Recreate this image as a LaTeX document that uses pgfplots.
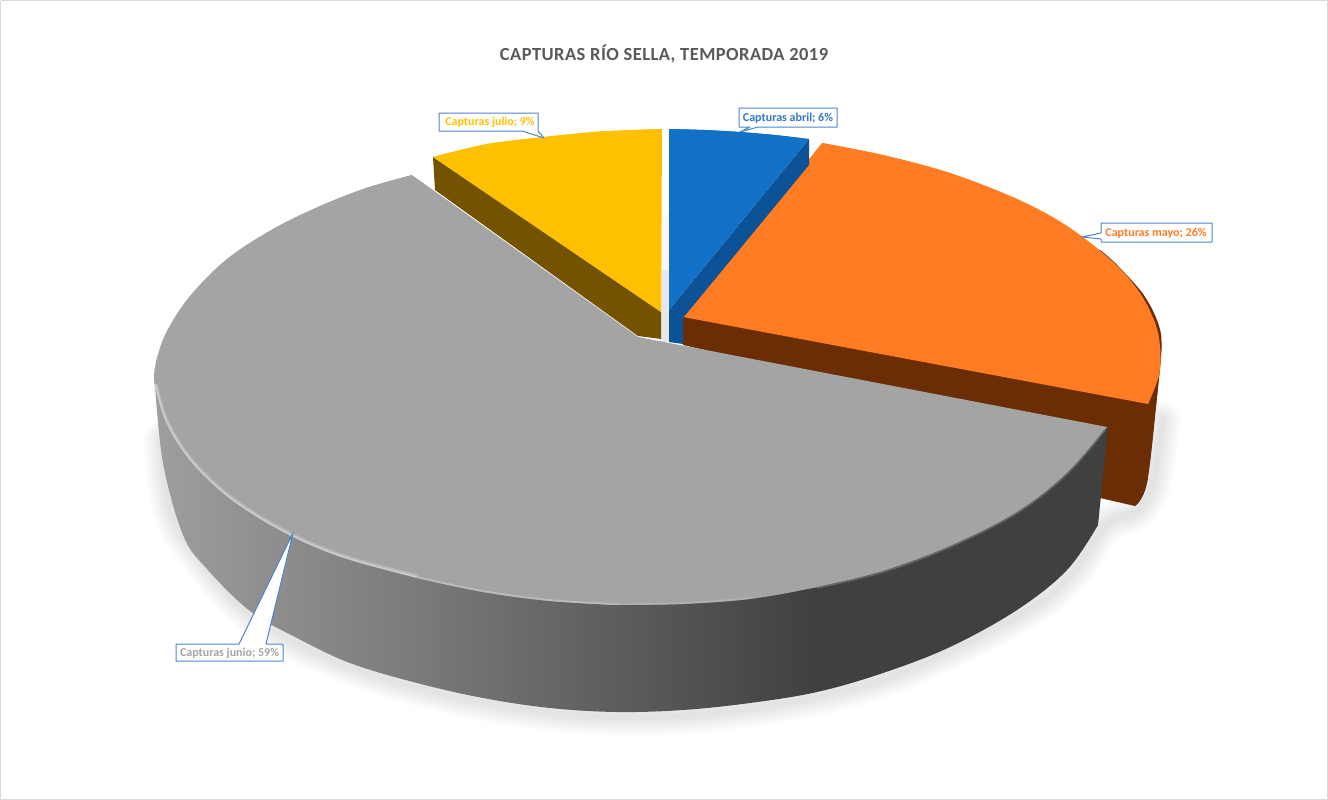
\documentclass[border=0pt]{standalone}
\usepackage{pgfplots}
\pgfplotsset{compat=1.18}
\usepackage{fontspec}
\setmainfont{Carlito}
\definecolor{framec}{HTML}{D9D9D9}
\definecolor{ctitle}{HTML}{595959}
\definecolor{cblue}{HTML}{1270C6}
\definecolor{cblued}{HTML}{0B5296}
\definecolor{corange}{HTML}{FF7C22}
\definecolor{coranged}{HTML}{6B2E04}
\definecolor{cyellow}{HTML}{FFC000}
\definecolor{cyellowd}{HTML}{735200}
\definecolor{cgray}{HTML}{A4A4A4}
\definecolor{cgrayd}{HTML}{404040}
\definecolor{ccall}{HTML}{4A86D0}
\definecolor{ctblue}{HTML}{2F78CC}
\pgfdeclarehorizontalshading{wallshade}{100bp}{
 color(0bp)=(black!38!white);
 color(25bp)=(black!38!white);
 color(37bp)=(black!50!white);
 color(48bp)=(black!62!white);
 color(60bp)=(black!75!white);
 color(65bp)=(black!75!white);
 color(100bp)=(black!75!white)}
\newcommand{\labelfont}{\fontsize{12}{13}\selectfont\bfseries}
\begin{document}
\begin{tikzpicture}
\begin{axis}[
 scale only axis, width=1328pt, height=800pt,
 xmin=0, xmax=1328, ymin=0, ymax=800, y dir=reverse,
 hide axis, clip=true,
 every axis plot/.append style={line join=round, tension=0.6}
]
% frame
\addplot[draw=framec, line width=1.2pt] coordinates {(0.6,0.6) (1327.4,0.6) (1327.4,799.4) (0.6,799.4) (0.6,0.6)};
% soft shadow under the pie
\pgfplotsinvokeforeach{38,34,30,26,22,18,14,10,6}{
\addplot[draw=black, opacity=0.013, line width=#1pt, smooth, line cap=round] coordinates {(162,440) (170,505) (190,545) (255,617) (355,668) (488,703) (620,717) (752,708) (885,678) (1019,615) (1070,575) (1105,525) (1135,512) (1152,485) (1162,420)};
}
% gap between julio and abril
\addplot[draw=none, fill=black!3] coordinates {(660,215) (671,215) (671,342) (660,342)};
\addplot[draw=none, fill=black!9] coordinates {(660,270) (671,270) (671,342) (660,342)};
% mayo wall
\addplot[draw=none, fill=coranged, smooth] coordinates {(1100,250) (1116,264) (1143,294) (1158,323) (1161.5,347) (1157,397) (1147,483) (1135,506)};
\addplot[draw=none, fill=coranged] coordinates {(683,317) (1100,250) (1116,264) (1143,294) (1158,323) (1161.5,347) (1157,397) (1147,483) (1135,506) (1100,498) (1100,440) (683,345) (683,317)};
% mayo top
\addplot[draw=none, fill=corange, smooth] coordinates {(822,143) (883,155) (950,173) (1017,199) (1067,226) (1113,262) (1140,293) (1155,323) (1160,347) (1159,375) (1148,404)};
\addplot[draw=none, fill=corange] coordinates {(683,317) (822,143) (883,155) (950,173) (1017,199) (1067,226) (1113,262) (1140,293) (1155,323) (1160,347) (1159,375) (1148,404) (683,317)};
% abril wall
\addplot[draw=none, fill=cblued] coordinates {(669,310) (809,139) (809,165) (683,318) (683,344) (669,342)};
% abril top
\addplot[draw=none, fill=cblue, smooth] coordinates {(669,129) (705,130) (740,132) (775,135) (809,139)};
\addplot[draw=none, fill=cblue] coordinates {(669,129) (705,130) (740,132) (775,135) (809,139) (669,310) (669,129)};
% julio wall
\addplot[draw=none, fill=cyellowd] coordinates {(433,157) (661,312) (661,339) (638,336) (435,190)};
% julio top
\addplot[draw=none, fill=cyellow, smooth] coordinates {(433,157) (487,144) (544,137) (600,131.5) (662,129)};
\addplot[draw=none, fill=cyellow] coordinates {(433,157) (487,144) (544,137) (600,131.5) (662,129) (661,312) (433,157)};
% junio wall
\addplot[draw=none, fill=cgrayd] coordinates {(1098,525) (1108,427) (1000,440) (1000,560) (1098,525)};
\addplot[draw=none, shade, shading=wallshade, smooth] coordinates {(155,385) (163,463) (183,535) (207,569) (250,611) (295,637) (350,663) (417,683) (483,698) (550,708) (617,712) (683,710) (750,703) (817,692) (883,673) (950,647) (1017,610) (1067,570) (1098,525)};
% junio top
\addplot[draw=none, fill=cgray, smooth] coordinates {(412,175) (366,188) (320,206) (273,229) (227,259) (190,296) (167,331) (157,358) (154,378) (157,393) (167,423) (190,460) (223,493) (257,517) (293,537) (327,552) (360,563) (417,578) (483,592) (550,601) (617,605)};
\addplot[draw=none, fill=cgray, smooth] coordinates {(617,605) (683,604) (750,599) (817,587) (883,571) (950,546) (1017,512) (1067,473) (1107,427)};
\addplot[draw=none, fill=cgray] coordinates {(412,175) (366,188) (320,206) (273,229) (227,259) (190,296) (167,331) (157,358) (154,378) (157,393) (167,423) (190,460) (223,493) (257,517) (293,537) (327,552) (360,563) (417,578) (483,592) (550,601) (617,605) (683,604) (750,599) (817,587) (883,571) (950,546) (1017,512) (1067,473) (1107,427) (638,337) (412,175)};
% rim
\addplot[draw=black!27, line width=3.2pt, smooth, line cap=round] coordinates {(156,385) (167,421) (190,458) (223,491) (257,515) (293,535) (327,550) (360,561) (417,576)};
\addplot[draw=black!20, line width=1.4pt, smooth, line cap=round] coordinates {(156,385) (167,422) (190,459) (223,492) (257,516) (293,536) (327,551) (360,562) (417,577)};
\addplot[draw=black!27, line width=1.8pt, smooth, line cap=round] coordinates {(417,577) (483,591) (550,600) (617,604)};
\addplot[draw=black!30, line width=1.4pt, smooth, line cap=round] coordinates {(617,604) (683,603) (750,598)};
\addplot[draw=black!60, line width=1.6pt, smooth] coordinates {(817,588) (883,572) (950,547) (1017,513) (1067,474) (1105,430)};
% callouts
\addplot[draw=ccall, fill=white, line width=1pt] coordinates {(439,113) (538,113) (538,131) (544,138) (522,131) (439,131) (439,113)};
\addplot[draw=ccall, fill=white, line width=1pt] coordinates {(739,108) (837,108) (837,127) (758,127) (740,132) (750,127) (739,127) (739,108)};
\addplot[draw=ccall, fill=white, line width=1pt] coordinates {(1101,223) (1212,223) (1212,242) (1101,242) (1101,239) (1082,237) (1101,233) (1101,223)};
\addplot[draw=ccall, fill=white, line width=1pt] coordinates {(176,644) (239,644) (293,533) (266,644) (283,644) (283,661) (176,661) (176,644)};
% texts
\node[anchor=center, text=ctitle, font=\fontsize{18.5}{20}\selectfont\bfseries] at (axis cs:664,53.5) {\addfontfeature{LetterSpace=2.5}CAPTURAS RÍO SELLA, TEMPORADA 2019};
\node[anchor=center, text=cyellow, font=\labelfont] at (axis cs:490,122.5) {Capturas julio; 9\%};
\node[anchor=center, text=ctblue, font=\labelfont] at (axis cs:788,118.5) {Capturas abril; 6\%};
\node[anchor=center, text=corange, font=\labelfont] at (axis cs:1156,233.5) {Capturas mayo; 26\%};
\node[anchor=center, text=cgray, font=\labelfont] at (axis cs:229.5,653.5) {Capturas junio; 59\%};
\end{axis}
\end{tikzpicture}
\end{document}
